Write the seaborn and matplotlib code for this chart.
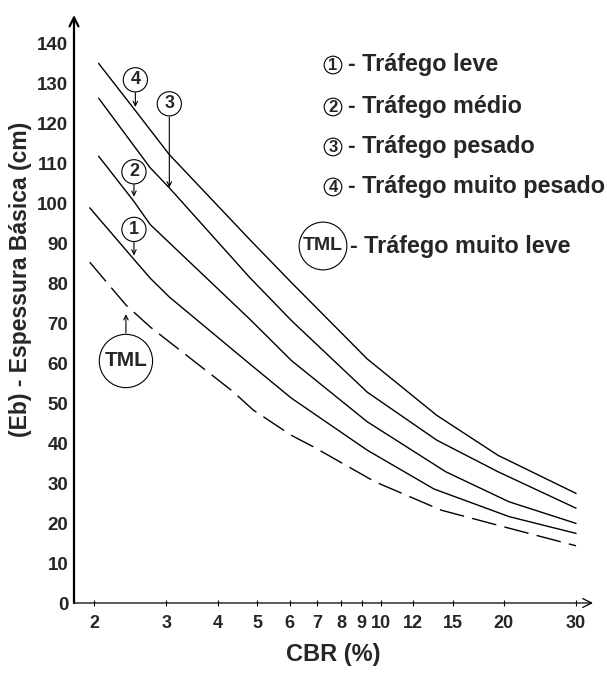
import matplotlib
matplotlib.use("Agg")
import matplotlib.pyplot as plt
from matplotlib.ticker import FixedLocator, FixedFormatter, NullLocator
import seaborn as sns

# values: CBR (%) -> espessura basica (cm)
cbr_tml = [1.95, 2.39, 2.74, 4.37, 4.88, 6.06, 6.84, 9.69, 14.07, 20.59, 30]
eb_tml = [85.2, 74.5, 69.0, 52.8, 48.3, 41.9, 39.1, 30.3, 23.2, 18.7, 14.3]

cbr_leve = [1.95, 2.50, 2.74, 3.05, 4.79, 6.06, 9.28, 13.5, 20.59, 30]
eb_leve = [98.8, 85.9, 81.2, 76.5, 59.8, 51.2, 38.2, 28.5, 21.6, 17.4]

cbr_medio = [2.05, 2.50, 2.74, 4.79, 6.06, 9.28, 14.43, 20.59, 30]
eb_medio = [111.7, 100.4, 94.6, 71.0, 60.6, 45.3, 32.8, 25.3, 19.9]

cbr_pesado = [2.05, 2.74, 3.05, 4.79, 6.06, 9.28, 13.72, 19.36, 30]
eb_pesado = [126.2, 108.8, 103.8, 81.4, 70.6, 52.7, 40.7, 32.8, 23.7]

cbr_muito_pesado = [2.05, 2.52, 3.05, 4.79, 6.06, 9.28, 13.72, 19.36, 30]
eb_muito_pesado = [134.9, 123.1, 112.1, 90.9, 80.1, 61.0, 46.9, 36.9, 27.4]

x_ticks = [2, 3, 4, 5, 6, 7, 8, 9, 10, 12, 15, 20, 30]
y_ticks = list(range(0, 150, 10))

legend_labels = ["- Tráfego leve", "- Tráfego médio", "- Tráfego pesado",
                 "- Tráfego muito pesado"]

sns.set_theme(style="white")
plt.rcParams["font.family"] = ["Liberation Sans", "DejaVu Sans"]

W, H = 607, 673
fig = plt.figure(figsize=(W / 100, H / 100), dpi=100)
ax = fig.add_axes([74 / W, 1 - 603 / H, (593 - 74) / W, (603 - 15) / H])

curves = [
    (cbr_leve, eb_leve),
    (cbr_medio, eb_medio),
    (cbr_pesado, eb_pesado),
    (cbr_muito_pesado, eb_muito_pesado),
]
for xs, ys in curves:
    sns.lineplot(x=xs, y=ys, ax=ax, color="black", lw=1.0,
                 estimator=None, sort=False)
sns.lineplot(x=cbr_tml, y=eb_tml, ax=ax, color="black", lw=1.0,
             estimator=None, sort=False, linestyle=(0, (18, 6)))

ax.set_xscale("log")
ax.set_xlim(1.785, 33.0)
ax.set_ylim(0, 147)

ax.xaxis.set_major_locator(FixedLocator(x_ticks))
ax.xaxis.set_major_formatter(FixedFormatter([str(t) for t in x_ticks]))
ax.xaxis.set_minor_locator(NullLocator())
ax.set_yticks(y_ticks)
ax.tick_params(axis="x", direction="inout", length=5, width=0.8, pad=6,
               labelsize=13, bottom=True, color="black")
ax.tick_params(axis="y", length=0, pad=4, labelsize=13.5)
for lab in ax.get_xticklabels() + ax.get_yticklabels():
    lab.set_fontweight("bold")

for s in ax.spines.values():
    s.set_visible(False)
ax.annotate("", xy=(0, 1), xytext=(0, 0), xycoords="axes fraction",
            arrowprops=dict(arrowstyle="->", lw=1.6, color="black",
                            shrinkA=0, shrinkB=0, mutation_scale=16))
ax.annotate("", xy=(1, 0), xytext=(0, 0), xycoords="axes fraction",
            arrowprops=dict(arrowstyle="->", lw=0.9, color="black",
                            shrinkA=0, shrinkB=0, mutation_scale=16))

ax.set_xlabel("CBR (%)", fontsize=17, fontweight="bold", labelpad=8)
ax.set_ylabel("(Eb) - Espessura Básica (cm)", fontsize=16.5,
              fontweight="bold")
ax.yaxis.set_label_coords(-0.08, 0.55)

# circled labels with arrows on the curves
circ = dict(boxstyle="circle,pad=0.2", fc="white", ec="black", lw=0.8)
arr = dict(arrowstyle="->", lw=0.8, color="black", shrinkA=0, shrinkB=0,
           mutation_scale=8)
marks = [("4", 2.52, 130.8, 127.6, 124.0),
         ("3", 3.05, 124.8, 121.5, 103.9),
         ("2", 2.50, 107.8, 104.6, 101.6),
         ("1", 2.50, 93.4, 90.2, 86.9)]
for txt, x, y, y0, y1 in marks:
    ax.text(x, y, txt, ha="center", va="center", fontsize=13,
            fontweight="bold", bbox=circ)
    ax.annotate("", xy=(x, y1), xytext=(x, y0), arrowprops=arr)
ax.text(2.39, 60.5, "TML", ha="center", va="center", fontsize=15,
        fontweight="bold",
        bbox=dict(boxstyle="circle,pad=0.25", fc="white", ec="black", lw=0.8))
ax.annotate("", xy=(2.39, 72.2), xytext=(2.39, 67.5), arrowprops=arr)

# key at the top right
rows_y = [65, 107, 147, 187]
for i, (lab, py) in enumerate(zip(legend_labels, rows_y)):
    fig.text(333 / W, 1 - py / H, str(i + 1), ha="center", va="center",
             fontsize=12, fontweight="bold",
             bbox=dict(boxstyle="circle,pad=0.08", fc="white", ec="black",
                       lw=0.8))
    fig.text(348 / W, 1 - py / H, lab, ha="left", va="center",
             fontsize=16.8, fontweight="bold")
fig.text(323 / W, 1 - 246 / H, "TML", ha="center", va="center", fontsize=14,
         fontweight="bold",
         bbox=dict(boxstyle="circle,pad=0.2", fc="white", ec="black", lw=0.8))
fig.text(350 / W, 1 - 246 / H, "- Tráfego muito leve", ha="left",
         va="center", fontsize=16.8, fontweight="bold")

fig.savefig("out.png", dpi=100)
